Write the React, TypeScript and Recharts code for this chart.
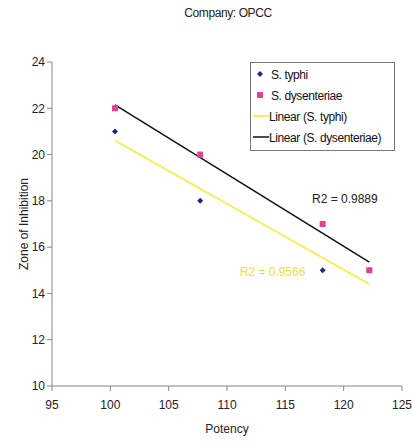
import { ComposedChart, Scatter, XAxis, YAxis, ReferenceDot, Label } from 'recharts';

const potency = [100.4, 107.7, 118.2, 122.2];
const typhi = [21, 18, 15, 15];
const dysenteriae = [22, 20, 17, 15];

// trendline end points
const trendX = [100.4, 122.2];
const typhiTrendY = [20.6, 14.4];
const dysTrendY = [22.15, 15.35];

const xTicks = [95, 100, 105, 110, 115, 120, 125];
const yTicks = [10, 12, 14, 16, 18, 20, 22, 24];

const typhiPts = potency.map((x, i) => ({ x, y: typhi[i] }));
const dysPts = potency.map((x, i) => ({ x, y: dysenteriae[i] }));
const typhiTrend = trendX.map((x, i) => ({ x, y: typhiTrendY[i] }));
const dysTrend = trendX.map((x, i) => ({ x, y: dysTrendY[i] }));

const font = '"Liberation Sans", Arial, sans-serif';

const Diamond = (p: any) => (
  <polygon
    points={`${p.cx},${p.cy - 3} ${p.cx + 3},${p.cy} ${p.cx},${p.cy + 3} ${p.cx - 3},${p.cy}`}
    fill="#1f2a78"
  />
);
const Square = (p: any) => <rect x={p.cx - 3} y={p.cy - 3} width={6} height={6} fill="#e0458f" />;
const Nothing = () => <g />;

const LegendBox = () => (
  <div
    style={{
      position: 'absolute',
      top: 62,
      left: 250,
      border: '1px solid #777',
      background: '#fff',
      width: 141,
      padding: '2px 0 1px 2px',
      fontFamily: font,
      fontSize: 12,
      letterSpacing: -0.4,
      color: '#111',
      lineHeight: '21px',
      zIndex: 2,
    }}
  >
    <div>
      <svg width={14} height={10}><polygon points="7,2 10,5 7,8 4,5" fill="#1f2a78" /></svg>
      <span style={{ marginLeft: 4 }}>S. typhi</span>
    </div>
    <div>
      <svg width={14} height={10}><rect x={4} y={2} width={6} height={6} fill="#e0458f" /></svg>
      <span style={{ marginLeft: 4 }}>S. dysenteriae</span>
    </div>
    <div>
      <svg width={16} height={10}><line x1={0} y1={5} x2={16} y2={5} stroke="#f2ee60" strokeWidth={2} /></svg>
      <span>Linear (S. typhi)</span>
    </div>
    <div>
      <svg width={16} height={10}><line x1={0} y1={5} x2={16} y2={5} stroke="#111" strokeWidth={1.5} /></svg>
      <span>Linear (S. dysenteriae)</span>
    </div>
  </div>
);

export default function App() {
  return (
    <div style={{ position: 'absolute', left: 0, top: 0, width: 412, height: 446, background: '#fff' }}>
      <div
        style={{
          position: 'absolute',
          top: 6,
          left: 0,
          width: 456,
          textAlign: 'center',
          fontFamily: font,
          fontSize: 12,
          letterSpacing: -0.4,
          color: '#222',
        }}
      >
        Company: OPCC
      </div>
      <LegendBox />
      <ComposedChart width={412} height={446} margin={{ top: 62, right: 10, bottom: 30, left: 10 }}>
        <XAxis
          type="number"
          dataKey="x"
          domain={[95, 125]}
          ticks={xTicks}
          allowDataOverflow
          stroke="#888"
          tickSize={5}
          height={30}
          tick={{ fill: '#222', fontSize: 12, fontFamily: font, dy: 7 }}
        >
          <Label value="Potency" position="bottom" offset={8} style={{ fill: '#222', fontSize: 12, fontFamily: font }} />
        </XAxis>
        <YAxis
          type="number"
          dataKey="y"
          domain={[10, 24]}
          ticks={yTicks}
          allowDataOverflow
          stroke="#888"
          tickSize={5}
          width={42}
          tick={{ fill: '#222', fontSize: 12, fontFamily: font }}
        >
          <Label
            value="Zone of Inhibition"
            angle={-90}
            position="insideLeft"
            offset={14}
            style={{ fill: '#222', fontSize: 12, fontFamily: font, textAnchor: 'middle' }}
          />
        </YAxis>
        <Scatter data={typhiTrend} line={{ stroke: '#f2ee60', strokeWidth: 2 }} shape={Nothing} isAnimationActive={false} legendType="none" />
        <Scatter data={dysTrend} line={{ stroke: '#111', strokeWidth: 1.5 }} shape={Nothing} isAnimationActive={false} legendType="none" />
        <Scatter data={typhiPts} shape={Diamond} isAnimationActive={false} />
        <Scatter data={dysPts} shape={Square} isAnimationActive={false} />
        <ReferenceDot
          x={120.1}
          y={18.1}
          r={0}
          fill="none"
          stroke="none"
          label={{ value: 'R2 = 0.9889', position: 'center', fill: '#222', fontSize: 12, fontFamily: font }}
        />
        <ReferenceDot
          x={113.9}
          y={14.95}
          r={0}
          fill="none"
          stroke="none"
          label={{ value: 'R2 = 0.9566', position: 'center', fill: '#e8e040', fontSize: 12, fontFamily: font }}
        />
      </ComposedChart>
    </div>
  );
}
